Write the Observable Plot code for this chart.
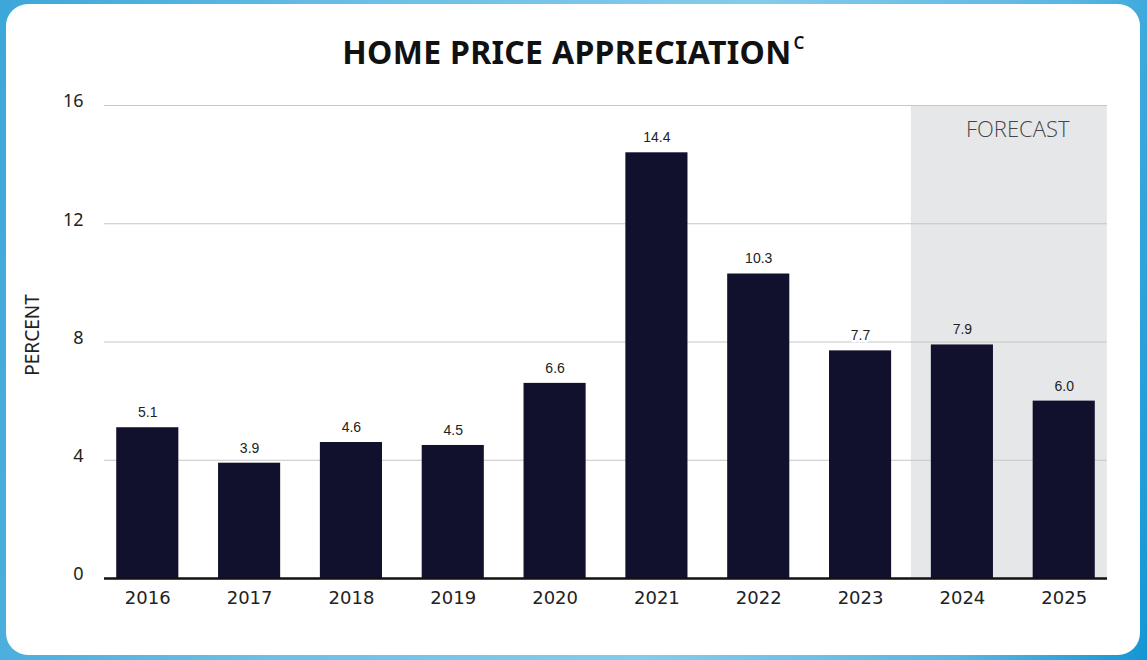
<!DOCTYPE html>
<html>
<head>
<meta charset="utf-8">
<script src="https://cdn.jsdelivr.net/npm/d3@7"></script>
<script src="https://cdn.jsdelivr.net/npm/@observablehq/plot@0.6"></script>
<style>
  html, body { margin: 0; padding: 0; }
  body {
    width: 1147px; height: 660px; overflow: hidden; position: relative;
    background: linear-gradient(100deg, #3da7d9 0%, #6cbfe6 30%, #84cbec 60%, #5ab6e2 85%, #1496d4 100%);
    font-family: "Noto Sans", "Open Sans", sans-serif;
  }
  #card {
    position: absolute; left: 6px; top: 4px; width: 1134px; height: 651px;
    background: #fff; border-radius: 22px;
  }
  #title {
    position: absolute; left: 0; top: 30px; width: 1147px; text-align: center;
    font-family: "Noto Sans", "Open Sans", sans-serif; font-weight: 700; font-size: 32px;
    color: #111; letter-spacing: 0.3px;
  }
  #title sup { font-size: 17px; font-weight: 600; vertical-align: 0; position: relative; top: -15px; margin-left: 2px; }
  #chart { position: absolute; left: 0; top: 0; }
</style>
</head>
<body>
<div id="card"></div>
<div id="title">HOME PRICE APPRECIATION<sup>C</sup></div>
<div id="chart"></div>
<script>
const years = ["2016","2017","2018","2019","2020","2021","2022","2023","2024","2025"];
const values = [5.1, 3.9, 4.6, 4.5, 6.6, 14.4, 10.3, 7.7, 7.9, 6.0];
const forecastYears = ["2024","2025"];
const yTicks = [0, 4, 8, 12, 16];
const yLabel = "PERCENT";
const forecastLabel = "FORECAST";

const data = years.map((y, i) => ({year: y, value: values[i], forecast: forecastYears.includes(y)}));
const bgFor = d => d.forecast ? "#e6e7e9" : "#ffffff";

const chart = Plot.plot({
  width: 1147,
  height: 660,
  marginTop: 105,
  marginBottom: 82,
  marginLeft: 104,
  marginRight: 40,
  style: {background: "transparent", overflow: "visible"},
  x: {type: "band", domain: years, paddingInner: 0.39, paddingOuter: 0.12, round: false, label: null},
  y: {domain: [0, 16], label: null},
  marks: [
    Plot.barY([forecastYears[0]], {x: d => d, y1: 0, y2: 16, fill: "#e6e7e9", insetLeft: -20, insetRight: -20}),
    Plot.barY([forecastYears[1]], {x: d => d, y1: 0, y2: 16, fill: "#e6e7e9", insetLeft: -20, insetRight: -12}),
    Plot.ruleY(yTicks.filter(t => t > 0), {stroke: "#c6c6c6", strokeWidth: 1.2}),
    Plot.barY(data, {x: "year", y: "value", fill: "#12112d"}),
    Plot.ruleY([0], {stroke: "#111", strokeWidth: 2.6}),
    Plot.text(data, {x: "year", y: "value", text: d => d.value.toFixed(1), dy: -15,
      fontSize: 14, fontFamily: "Liberation Sans, Arial, sans-serif", fill: "#222",
      stroke: bgFor, strokeWidth: 5, paintOrder: "stroke", letterSpacing: "1px"}),
    Plot.axisY({ticks: yTicks, tickSize: 0, tickPadding: 21, dy: -4, fontSize: 18,
      fontFamily: "Noto Sans, Open Sans, sans-serif", fill: "#222", label: null}),
    Plot.axisX({tickSize: 0, tickPadding: 13, fontSize: 18,
      fontFamily: "DejaVu Sans, Verdana, sans-serif", fill: "#222", label: null,
      letterSpacing: "2px"}),
    Plot.text([yLabel], {frameAnchor: "left", rotate: -90, dx: -72, dy: -7, textAnchor: "middle",
      fontSize: 19, fontFamily: "Noto Sans, Open Sans, sans-serif", fill: "#222", letterSpacing: "1px"}),
    Plot.text([forecastLabel], {frameAnchor: "top-right", dx: -38, dy: 16, textAnchor: "end",
      fontSize: 22, fontWeight: 300, fontFamily: "Open Sans, Noto Sans, sans-serif", fill: "#444"})
  ]
});
document.getElementById("chart").append(chart);
</script>
</body>
</html>
